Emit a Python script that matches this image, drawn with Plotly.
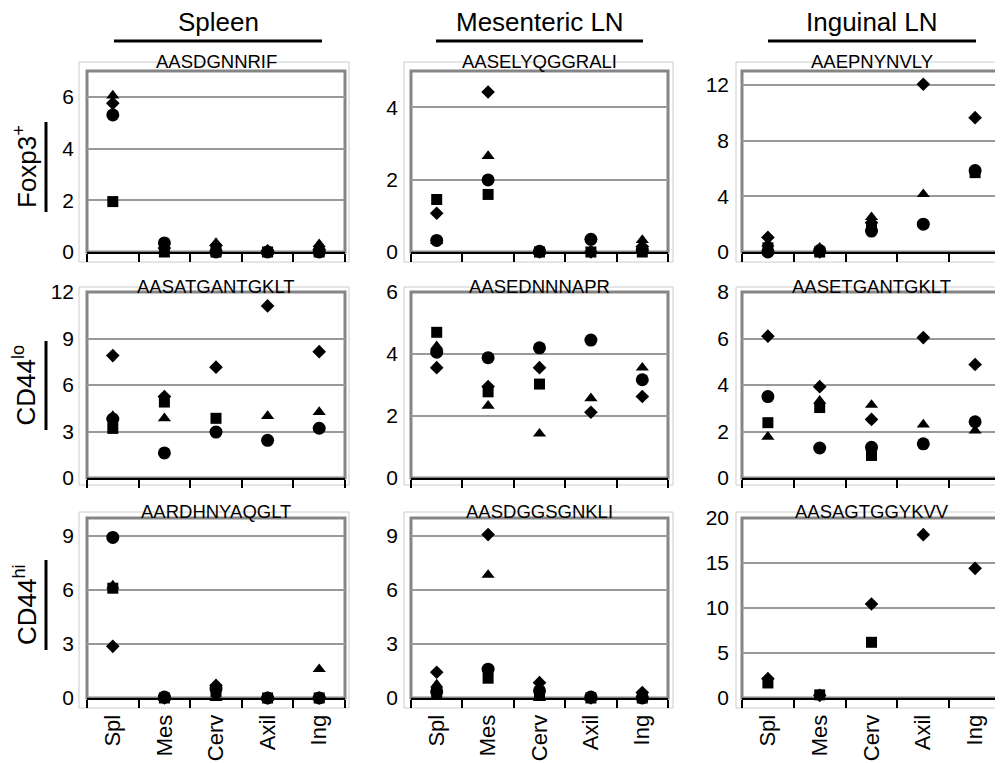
import plotly.graph_objects as go

# the page places the figure 8px from the top-left corner, so the figure is
# sized to the visible area and positions are given in screen pixels
SCREEN_W, SCREEN_H = 1003, 763
PAGE_OFFSET = 8
W, H = SCREEN_W - PAGE_OFFSET, SCREEN_H - PAGE_OFFSET

CATEGORIES = ["Spl", "Mes", "Cerv", "Axil", "Ing"]
COLUMN_TITLES = ["Spleen", "Mesenteric LN", "Inguinal LN"]
ROW_TITLES = ["Foxp3<sup>+</sup>", "CD44<sup>lo</sup>", "CD44<sup>hi</sup>"]
CLONOTYPES = [
    ["AASDGNNRIF", "AASELYQGGRALI", "AAEPNYNVLY"],
    ["AASATGANTGKLT", "AASEDNNNAPR", "AASETGANTGKLT"],
    ["AARDHNYAQGLT", "AASDGGSGNKLI", "AASAGTGGYKVV"],
]
Y_MAX = [[7, 5, 13], [12, 6, 8], [10, 10, 20]]
Y_STEP = [[2, 2, 4], [3, 2, 2], [3, 3, 5]]

# ---- values (circle, square, diamond, triangle) per panel ----
# Row 1: Foxp3+
FOXP3_SPL_CIRCLE = [5.3, 0.35, 0.0, 0.0, 0.0]
FOXP3_SPL_SQUARE = [1.95, 0.0, 0.0, 0.0, 0.0]
FOXP3_SPL_DIAMOND = [5.75, 0.15, 0.25, 0.05, 0.1]
FOXP3_SPL_TRIANGLE = [6.05, 0.05, 0.35, 0.0, 0.3]

FOXP3_MES_CIRCLE = [0.32, 1.99, 0.02, 0.35, 0.05]
FOXP3_MES_SQUARE = [1.45, 1.59, 0.0, 0.0, 0.0]
FOXP3_MES_DIAMOND = [1.07, 4.42, 0.0, 0.0, 0.15]
FOXP3_MES_TRIANGLE = [0.3, 2.65, 0.0, 0.05, 0.33]

FOXP3_ING_CIRCLE = [0.0, 0.1, 1.5, 2.0, 5.85]
FOXP3_ING_SQUARE = [0.3, 0.0, 1.8, None, 5.7]
FOXP3_ING_DIAMOND = [1.05, 0.0, 2.1, 12.05, 9.65]
FOXP3_ING_TRIANGLE = [0.6, 0.3, 2.5, 4.15, None]

# Row 2: CD44lo
CD44LO_SPL_CIRCLE = [3.8, 1.62, 2.96, 2.43, 3.21]
CD44LO_SPL_SQUARE = [3.2, 4.9, 3.85, None, None]
CD44LO_SPL_DIAMOND = [7.9, 5.25, 7.15, 11.1, 8.15]
CD44LO_SPL_TRIANGLE = [4.0, 3.85, None, 4.0, 4.25]

CD44LO_MES_CIRCLE = [4.06, 3.88, 4.2, 4.45, 3.17]
CD44LO_MES_SQUARE = [4.7, 2.78, 3.03, None, None]
CD44LO_MES_DIAMOND = [3.56, 2.95, 3.56, 2.12, 2.63]
CD44LO_MES_TRIANGLE = [4.25, 2.33, 1.43, 2.57, 3.56]

CD44LO_ING_CIRCLE = [3.5, 1.29, 1.32, 1.47, 2.42]
CD44LO_ING_SQUARE = [2.38, 3.03, 0.97, None, None]
CD44LO_ING_DIAMOND = [6.1, 3.93, 2.52, 6.04, 4.88]
CD44LO_ING_TRIANGLE = [1.77, 3.32, 3.14, 2.3, 2.04]

# Row 3: CD44hi
CD44HI_SPL_CIRCLE = [8.92, 0.05, 0.5, 0.0, 0.0]
CD44HI_SPL_SQUARE = [6.1, 0.0, 0.35, 0.0, 0.0]
CD44HI_SPL_DIAMOND = [2.87, 0.0, 0.7, 0.0, 0.0]
CD44HI_SPL_TRIANGLE = [6.25, 0.0, 0.0, 0.0, 1.6]

CD44HI_MES_CIRCLE = [0.35, 1.6, 0.4, 0.05, 0.0]
CD44HI_MES_SQUARE = [0.3, 1.1, 0.2, 0.0, 0.0]
CD44HI_MES_DIAMOND = [1.43, 9.08, 0.85, 0.0, 0.3]
CD44HI_MES_TRIANGLE = [0.75, 6.84, 0.0, 0.0, 0.15]

CD44HI_ING_CIRCLE = [None, None, None, None, None]
CD44HI_ING_SQUARE = [1.67, 0.35, 6.19, None, None]
CD44HI_ING_DIAMOND = [2.15, 0.3, 10.44, 18.15, 14.41]
CD44HI_ING_TRIANGLE = [None, None, None, None, None]

PANELS = [
    [
        (FOXP3_SPL_CIRCLE, FOXP3_SPL_SQUARE, FOXP3_SPL_DIAMOND, FOXP3_SPL_TRIANGLE),
        (FOXP3_MES_CIRCLE, FOXP3_MES_SQUARE, FOXP3_MES_DIAMOND, FOXP3_MES_TRIANGLE),
        (FOXP3_ING_CIRCLE, FOXP3_ING_SQUARE, FOXP3_ING_DIAMOND, FOXP3_ING_TRIANGLE),
    ],
    [
        (CD44LO_SPL_CIRCLE, CD44LO_SPL_SQUARE, CD44LO_SPL_DIAMOND, CD44LO_SPL_TRIANGLE),
        (CD44LO_MES_CIRCLE, CD44LO_MES_SQUARE, CD44LO_MES_DIAMOND, CD44LO_MES_TRIANGLE),
        (CD44LO_ING_CIRCLE, CD44LO_ING_SQUARE, CD44LO_ING_DIAMOND, CD44LO_ING_TRIANGLE),
    ],
    [
        (CD44HI_SPL_CIRCLE, CD44HI_SPL_SQUARE, CD44HI_SPL_DIAMOND, CD44HI_SPL_TRIANGLE),
        (CD44HI_MES_CIRCLE, CD44HI_MES_SQUARE, CD44HI_MES_DIAMOND, CD44HI_MES_TRIANGLE),
        (CD44HI_ING_CIRCLE, CD44HI_ING_SQUARE, CD44HI_ING_DIAMOND, CD44HI_ING_TRIANGLE),
    ],
]

FONT = "Liberation Sans, Arial, sans-serif"

# screen-pixel layout
COL_PX = [(87, 345), (411, 668), (742, 1001)]
ROW_PX = [(71, 252), (292, 478), (518, 698)]
OUTER_COL_PX = [(79, 349), (404, 673), (736, 1002)]
OUTER_ROW_PX = [(62, 262), (287, 485), (512, 708)]


def px_x(x):
    return (x - PAGE_OFFSET) / W


def px_y(y):
    return 1 - (y - PAGE_OFFSET) / H


# draw order: triangle, diamond, square, circle (circle on top)
SERIES_STYLE = [
    (3, "triangle-up", 11.5),
    (2, "diamond", 10.5),
    (1, "square", 11),
    (0, "circle", 13),
]

fig = go.Figure()
layout = dict(
    template="none",
    width=W, height=H, autosize=False,
    margin=dict(l=0, r=0, t=0, b=0, pad=0, autoexpand=False),
    paper_bgcolor="white", plot_bgcolor="white",
    font=dict(family=FONT, color="black"),
    showlegend=False,
)
shapes = []
annotations = []

n = 0
for r in range(3):
    for c in range(3):
        n += 1
        xa = "x" if n == 1 else f"x{n}"
        ya = "y" if n == 1 else f"y{n}"
        xkey = "xaxis" if n == 1 else f"xaxis{n}"
        ykey = "yaxis" if n == 1 else f"yaxis{n}"
        series = PANELS[r][c]
        for idx, sym, size in SERIES_STYLE:
            fig.add_trace(go.Scatter(
                x=CATEGORIES, y=series[idx], mode="markers",
                marker=dict(symbol=sym, size=size, color="black",
                            line=dict(width=0)),
                cliponaxis=False, xaxis=xa, yaxis=ya, showlegend=False,
                name=f"mouse {idx + 1}",
            ))
        x0, x1 = COL_PX[c]
        y0, y1 = ROW_PX[r]
        layout[xkey] = dict(
            domain=[px_x(x0), px_x(x1)], anchor=ya, automargin=False,
            type="category", categoryorder="array", categoryarray=CATEGORIES,
            range=[-0.5, 4.5], tickson="boundaries",
            ticks="outside", ticklen=8, tickwidth=2, tickcolor="black",
            showline=True, linecolor="black", linewidth=2,
            showgrid=False, zeroline=False,
            showticklabels=(r == 2), tickangle=-90,
            ticklabelstandoff=6,
            tickfont=dict(size=22, family=FONT, color="black"),
        )
        layout[ykey] = dict(
            domain=[px_y(y1), px_y(y0)], anchor=xa, automargin=False,
            range=[0, Y_MAX[r][c]], tick0=0, dtick=Y_STEP[r][c],
            showgrid=True, gridcolor="#999999", gridwidth=2,
            zeroline=False, showline=False, ticks="",
            ticklabelstandoff=12,
            tickfont=dict(size=21, family=FONT, color="black"),
        )
        # gray plot frame
        shapes.append(dict(
            type="rect", xref=f"{xa} domain", yref=f"{ya} domain",
            x0=0, x1=1, y0=0, y1=1, layer="below",
            line=dict(color="#858585", width=3),
        ))
        # light outer chart frame
        ox0, ox1 = OUTER_COL_PX[c]
        oy0, oy1 = OUTER_ROW_PX[r]
        shapes.append(dict(
            type="rect", xref="paper", yref="paper",
            x0=px_x(ox0), x1=px_x(ox1), y0=px_y(oy1), y1=px_y(oy0),
            layer="below", line=dict(color="#cccccc", width=1),
        ))
        # clonotype title
        annotations.append(dict(
            text=CLONOTYPES[r][c], xref="paper", yref="paper",
            x=px_x((x0 + x1) / 2), y=px_y(oy0 - 1), xanchor="center", yanchor="middle",
            showarrow=False, font=dict(size=18.5, family=FONT, color="black"),
        ))

# column headers with underline
HEADER_LINE_PX = [(114, 322), (436, 643), (768, 976)]
for c in range(3):
    lx0, lx1 = HEADER_LINE_PX[c]
    annotations.append(dict(
        text=COLUMN_TITLES[c], xref="paper", yref="paper",
        x=px_x((lx0 + lx1) / 2), y=px_y(22), xanchor="center", yanchor="middle",
        showarrow=False, font=dict(size=26, family=FONT, color="black"),
    ))
    shapes.append(dict(
        type="line", xref="paper", yref="paper",
        x0=px_x(lx0), x1=px_x(lx1), y0=px_y(41), y1=px_y(41),
        line=dict(color="black", width=3),
    ))

# row labels with vertical line
ROW_LINE_PX = [(122, 212), (341, 430), (560, 650)]
for r in range(3):
    ly0, ly1 = ROW_LINE_PX[r]
    annotations.append(dict(
        text=ROW_TITLES[r], xref="paper", yref="paper",
        x=px_x(25), y=px_y((ly0 + ly1) / 2), xanchor="center", yanchor="middle",
        textangle=-90, showarrow=False,
        font=dict(size=26, family=FONT, color="black"),
    ))
    shapes.append(dict(
        type="line", xref="paper", yref="paper",
        x0=px_x(46), x1=px_x(46), y0=px_y(ly0), y1=px_y(ly1),
        line=dict(color="black", width=3),
    ))

layout["shapes"] = shapes
layout["annotations"] = annotations
fig.update_layout(**layout)
fig.write_html("out.html")
